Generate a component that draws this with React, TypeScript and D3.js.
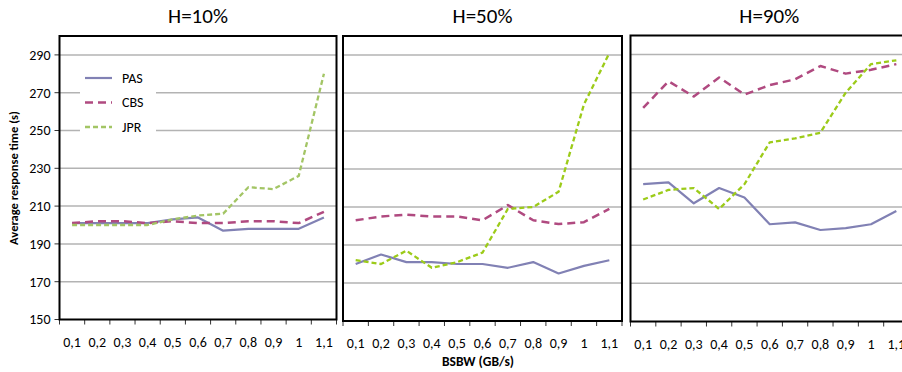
import React from 'react';
import * as d3 from 'd3';

// categories (BSBW, GB/s)
const bsbw = ['0,1', '0,2', '0,3', '0,4', '0,5', '0,6', '0,7', '0,8', '0,9', '1', '1,1'];
const yTicks = [150, 170, 190, 210, 230, 250, 270, 290];
const titles = ['H=10%', 'H=50%', 'H=90%'];

// average response time (s), one array per series and panel
const pas10 = [201, 201, 201, 201, 203, 204, 197, 198, 198, 198, 204];
const cbs10 = [201, 202, 202, 201, 202, 201, 201, 202, 202, 201, 207];
const jpr10 = [200, 200, 200, 200, 203, 205, 206, 220, 219, 226, 280];

const pas50 = [180, 185, 181, 181, 180, 180, 178, 181, 175, 179, 182];
const cbs50 = [203, 205, 206, 205, 205, 203, 211, 203, 201, 202, 209];
const jpr50 = [182, 180, 187, 178, 181, 186, 209, 210, 218, 264, 291];

const pas90 = [222, 223, 212, 220, 215, 201, 202, 198, 199, 201, 208];
const cbs90 = [262, 276, 268, 278, 269, 274, 277, 284, 280, 282, 285];
const jpr90 = [214, 219, 220, 209, 222, 244, 246, 249, 270, 285, 287];

const seriesNames = ['PAS', 'CBS', 'JPR'];

const FONT = "Carlito, 'Liberation Sans Narrow', 'Liberation Sans', sans-serif";

const panels = [
  { title: titles[0], x0: 59.5, x1: 336.5, y0: 36, y1: 319.5, data: [pas10, cbs10, jpr10], jpr: '#a3c565' },
  { title: titles[1], x0: 343, x1: 622, y0: 36, y1: 321, data: [pas50, cbs50, jpr50], jpr: '#9ccb19' },
  { title: titles[2], x0: 630.5, x1: 909, y0: 35.5, y1: 321.5, data: [pas90, cbs90, jpr90], jpr: '#9ccb19' },
];

const styleFor = (i: number, jprColor: string) => {
  if (i === 0) return { stroke: '#8181b4', dash: undefined, w: 2.2 };
  if (i === 1) return { stroke: '#b04a80', dash: '8,5', w: 2.5 };
  return { stroke: jprColor, dash: '5,3', w: 2.3 };
};

const Panel = ({ p, idx }: { p: typeof panels[0]; idx: number }) => {
  const x = d3.scaleBand().domain(bsbw).range([p.x0, p.x1]);
  const y = d3.scaleLinear().domain([150, 300]).range([p.y1, p.y0]);
  const line = d3
    .line<number>()
    .x((_, i) => (x(bsbw[i]) as number) + x.bandwidth() / 2)
    .y((d) => y(d));
  const boundaries = d3.range(bsbw.length + 1).map((i) => p.x0 + i * x.step());

  return (
    <g>
      <text x={(p.x0 + Math.min(p.x1, 902)) / 2 + (idx === 2 ? 3 : 0)} y={23} textAnchor="middle" fontSize={21} fontFamily={FONT}>
        {p.title}
      </text>
      {yTicks.slice(1).map((t) => (
        <line key={t} x1={p.x0} x2={p.x1} y1={y(t)} y2={y(t)} stroke="#b3b3b3" strokeWidth={1.5} />
      ))}
      {idx === 0 && (
        <g>
          {yTicks.map((t) => (
            <g key={t}>
              <line x1={p.x0 - 5} x2={p.x0} y1={y(t)} y2={y(t)} stroke="#333" strokeWidth={1} />
              <text x={p.x0 - 9} y={y(t)} dy="0.35em" textAnchor="end" fontSize={14} fontFamily={FONT}>
                {t}
              </text>
            </g>
          ))}
          <rect x={80} y={63} width={76} height={75} fill="#fff" />
          {seriesNames.map((n, i) => {
            const s = styleFor(i, p.jpr);
            const ly = 78 + i * 24.5;
            return (
              <g key={n}>
                <line x1={85} x2={112} y1={ly} y2={ly} stroke={s.stroke} strokeWidth={s.w} strokeDasharray={s.dash} />
                <text x={122} y={ly} dy="0.35em" fontSize={14} fontFamily={FONT}>
                  {n}
                </text>
              </g>
            );
          })}
        </g>
      )}
      {p.data.map((d, i) => {
        const s = styleFor(i, p.jpr);
        return (
          <path key={i} d={line(d) || ''} fill="none" stroke={s.stroke} strokeWidth={s.w} strokeDasharray={s.dash} strokeLinejoin="round" />
        );
      })}
      {boundaries.map((bx, i) => (
        <line key={i} x1={bx} x2={bx} y1={p.y1} y2={p.y1 + 5} stroke="#333" strokeWidth={1} />
      ))}
      <rect x={p.x0} y={p.y0} width={p.x1 - p.x0} height={p.y1 - p.y0} fill="none" stroke="#000" strokeWidth={2} />
      {bsbw.map((c) => (
        <text key={c} x={(x(c) as number) + x.bandwidth() / 2} y={p.y1 + 27} textAnchor="middle" fontSize={14} fontFamily={FONT}>
          {c}
        </text>
      ))}
    </g>
  );
};

export default function App() {
  return (
    <div style={{ position: 'absolute', left: 0, top: 0 }}>
      <svg width={902} height={372} style={{ display: 'block', background: '#fff' }}>
        {panels.map((p, i) => (
          <Panel key={i} p={p} idx={i} />
        ))}
        <text
          transform="translate(18,178) rotate(-90)"
          textAnchor="middle"
          fontSize={12.5}
          fontWeight="bold"
          fontFamily={FONT}
        >
          Average response time (s)
        </text>
        <text x={478} y={366} textAnchor="middle" fontSize={13.5} fontWeight="bold" fontFamily={FONT}>
          BSBW (GB/s)
        </text>
      </svg>
    </div>
  );
}
